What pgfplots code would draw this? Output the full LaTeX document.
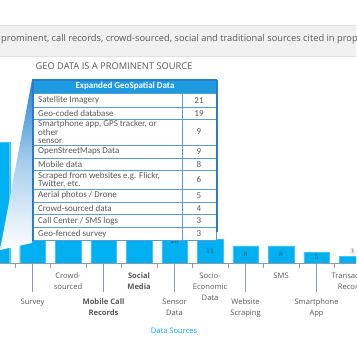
\documentclass[border=0pt]{standalone}
\usepackage{pgfplots}
\usepackage{pgfplotstable}
\pgfplotsset{compat=1.18}
\usepackage{fontspec}
\setmainfont{Open Sans}
\newfontfamily\tabfont{Carlito}
\definecolor{barblue}{HTML}{00B0F0}
\definecolor{txtgray}{HTML}{595959}
\definecolor{lblgray}{HTML}{3F4A55}
\definecolor{axgray}{HTML}{8B9BAA}
\definecolor{hdrblue}{HTML}{1E9BE0}
\definecolor{tabblue}{HTML}{2A7CC9}
\definecolor{tabline}{HTML}{5B9BD5}
\definecolor{banner}{HTML}{F0F0F0}

\pgfplotstableread{
x v
0 56
1 38
2 30
3 26
4 23
5 20
6 11
7 8
8 8
9 5
}\maindata
\pgfplotstableread{
x v
10 3
}\smalldata

\begin{document}
\begin{tikzpicture}[x=1pt,y=1pt]
\useasboundingbox (0,0) rectangle (356,364);
\clip (0,0) rectangle (356,364);
\fill[white] (0,0) rectangle (356,364);
% banner
\fill[banner] (0,308) rectangle (356,339);
\draw[black!12] (0,339) -- (356,339);
\draw[black!12] (0,308) -- (356,308);
\node[anchor=west, font=\fontsize{9.3}{10}\selectfont, text=txtgray, inner sep=0pt] at (1,325) {prominent, call records, crowd-sourced, social and traditional sources cited in proposals};
% title
\node[font=\fontsize{9.3}{10}\selectfont, text=txtgray] at (114,298) {GEO DATA IS A PROMINENT SOURCE};

\begin{axis}[
  at={(0pt,101pt)}, anchor=south west, scale only axis,
  width=356pt, height=202.1pt,
  xmin=0.085, xmax=10.11, ymin=0, ymax=94,
  axis x line*=bottom, axis y line=none,
  x axis line style={axgray, -},
  ybar, bar width=25.5pt,
  tick align=outside,
  xtick={0,2,4,6,8,10},
  xticklabels={Geo-\\spatial, Crowd-\\sourced, \textbf{Social}\\\textbf{Media}, Socio-\\Economic\\Data, SMS, Transaction\\Records},
  major tick length=0pt,
  minor xtick={0.5,1.5,2.5,3.5,4.5,5.5,6.5,7.5,8.5,9.5},
  minor tick length=5pt,
  minor tick style={axgray},
  extra x ticks={1,3,5,7,9},
  extra x tick labels={Survey, \textbf{Mobile Call}\\\textbf{Records}, Sensor\\Data, Website\\Scraping, Smartphone\\App},
  extra x tick style={major tick length=29pt, tick style={axgray}, xticklabel style={yshift=3pt}},
  xticklabel style={font=\fontsize{7.6}{11}\selectfont, text=txtgray, align=center, yshift=-6pt},
  xlabel={Data Sources},
  xlabel style={at={(axis description cs:0.489,0)}, anchor=center, yshift=-68pt, font=\fontsize{7.6}{9}\selectfont, text=barblue},
]
\addplot[fill=barblue, draw=barblue!75!white, bar shift=0pt,
  nodes near coords,
  visualization depends on={\thisrow{v} \as \val},
  every node near coord/.append style={anchor=center, yshift={-1.075*\val}, font=\fontsize{7.5}{8}\selectfont, text=lblgray}]
  table[x=x, y=v] {\maindata};
\addplot[fill=barblue, draw=barblue!75!white, bar shift=0pt,
  nodes near coords,
  every node near coord/.append style={font=\fontsize{7.5}{8}\selectfont, text=lblgray}]
  table[x=x, y=v] {\smalldata};
\end{axis}

% zoom callout gradient
\shade[top color={rgb,255:red,38;green,132;blue,210}, bottom color=white, middle color={rgb,255:red,170;green,208;blue,238}]
  (32,284) -- (32,121) -- (0,114) -- cycle;

% table
\begin{scope}[font=\tabfont]
\fill[white] (32,284) rectangle (216,123.5);
\fill[hdrblue] (32,284) rectangle (216,271);
\node[font=\tabfont\fontsize{9}{9}\selectfont\bfseries, text=white] at (125,277.5) {Expanded GeoSpatial Data};
\foreach \y in {271,256.5,245,219,205.5,193.5,175,162,149.5,137} {
  \draw[tabline, line width=0.8pt] (32,\y) -- (216,\y);
}
\draw[tabline, line width=0.8pt] (182,271) -- (182,123.5);
\draw[tabline, line width=0.8pt] (32,123.5) -- (216,123.5);
\draw[tabblue, line width=1.6pt] (33,284) -- (33,122.5);
\draw[tabblue, line width=1.4pt] (32,284) -- (217,284);
\draw[tabblue, line width=1.8pt] (217,284) -- (217,132);
\draw[tabline, line width=0.8pt] (216,132) -- (216,123.5);
\tikzset{rowtxt/.style={anchor=west, font=\tabfont\fontsize{9}{8.1}\selectfont, text=txtgray, align=left, inner sep=0pt},
         numtxt/.style={font=\tabfont\fontsize{9}{8.1}\selectfont, text=txtgray, inner sep=0pt}}
\node[rowtxt] at (38,263.75) {Satellite Imagery};
\node[numtxt] at (199,263.75) {21};
\node[rowtxt] at (38,250.75) {Geo-coded database};
\node[numtxt] at (199,250.75) {19};
\node[rowtxt] at (38,232) {Smartphone app, GPS tracker, or\\other\\sensor};
\node[numtxt] at (199,232) {9};
\node[rowtxt] at (38,212.25) {OpenStreetMaps Data};
\node[numtxt] at (199,212.25) {9};
\node[rowtxt] at (38,199.5) {Mobile data};
\node[numtxt] at (199,199.5) {8};
\node[rowtxt] at (38,184.25) {Scraped from websites e.g. Flickr,\\Twitter, etc.};
\node[numtxt] at (199,184.25) {6};
\node[rowtxt] at (38,168.5) {Aerial photos / Drone};
\node[numtxt] at (199,168.5) {5};
\node[rowtxt] at (38,155.75) {Crowd-sourced data};
\node[numtxt] at (199,155.75) {4};
\node[rowtxt] at (38,143.25) {Call Center / SMS logs};
\node[numtxt] at (199,143.25) {3};
\node[rowtxt] at (38,130.25) {Geo-fenced survey};
\node[numtxt] at (199,130.25) {3};
\end{scope}
\end{tikzpicture}
\end{document}
